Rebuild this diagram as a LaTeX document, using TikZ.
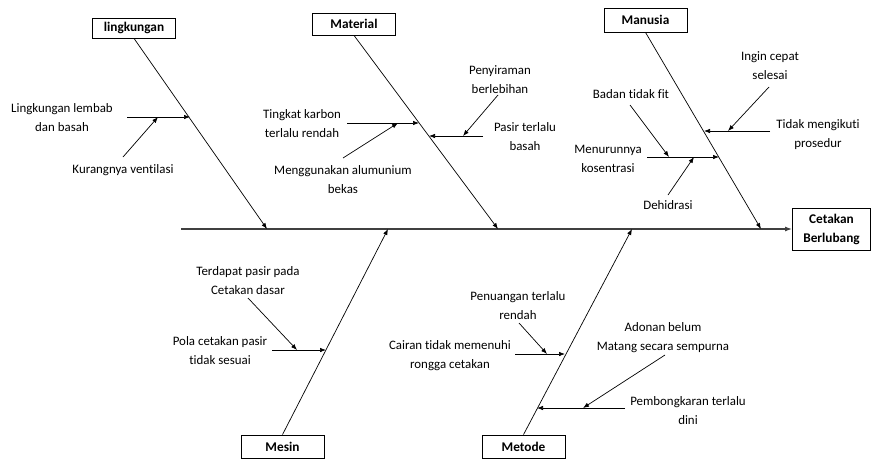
\documentclass[tikz,border=0pt]{standalone}
\usepackage{fontspec}
\setmainfont{Carlito}[Ligatures=NoCommon]
\usetikzlibrary{arrows.meta}

\tikzset{
  catbox/.style={draw, line width=0.8pt, minimum width=83pt, minimum height=23pt, inner sep=0pt, font=\fontsize{13.3}{19}\selectfont\bfseries},
  causetext/.style={align=center, inner sep=0pt},
  bone/.style={line width=0.7pt, -{Latex[length=6pt,width=4.5pt]}},
  spine/.style={line width=1.3pt, black!75, -{Latex[length=7pt,width=5pt]}}
}

\begin{document}
\begin{tikzpicture}[x=1pt, y=-1pt, font=\fontsize{12.9}{19}\selectfont]
  \useasboundingbox (0,0) rectangle (872,459);
  % category boxes and effect
  \node[catbox, minimum height=20pt] (lingk) at (134,28) {lingkungan};
  \node[catbox, minimum height=22pt] (mat) at (354,24) {Material};
  \node[catbox, minimum height=24pt] (man) at (645.5,20) {Manusia};
  \node[catbox] (mes) at (282.5,446.5) {Mesin};
  \node[catbox] (met) at (523.5,446.5) {Metode};
  \node[catbox, minimum width=78pt, minimum height=42pt, align=center] (efek) at (831.5,229) {Cetakan\\Berlubang};
  % spine and junction points
  \coordinate (tail) at (181,229);
  \coordinate (jl) at (267,229);
  \coordinate (jmat) at (498,229);
  \coordinate (jman) at (761,229);
  \coordinate (jmes) at (388,229);
  \coordinate (jmet) at (632,229);
  \draw[spine] (tail) -- (efek.west);
  \draw[bone] (lingk.south) -- (jl);
  \draw[bone] (mat.south) -- (jmat);
  \draw[bone] (man.south) -- (jman);
  \draw[bone] (mes.north) -- (jmes);
  \draw[bone] (met.north) -- (jmet);

  % lingkungan
  \node[causetext] (l1) at (62,117.5) {Lingkungan lembab\\dan basah};
  \node[causetext] (l2) at (123,170) {Kurangnya ventilasi};
  \coordinate (l1s) at (127,117);
  \coordinate (l1e) at (190,117);
  \coordinate (l1m) at (158,117);
  \coordinate (l2s) at (123,157);
  \draw[bone] (l1s) -- (l1e);
  \draw[bone] (l2s) -- (l1m);

  % material
  \node[causetext] (m1) at (302,124) {Tingkat karbon\\terlalu rendah};
  \node[causetext] (m2) at (343,179.5) {Menggunakan alumunium\\bekas};
  \node[causetext] (m3) at (525,137) {Pasir terlalu\\basah};
  \node[causetext] (m4) at (500,79.5) {Penyiraman\\berlebihan};
  \coordinate (m1s) at (347,123);
  \coordinate (m1e) at (419,123);
  \coordinate (m1m) at (398,123);
  \coordinate (m2s) at (343,158);
  \coordinate (m3s) at (483,136);
  \coordinate (m3e) at (429,136);
  \coordinate (m3m) at (463,136);
  \coordinate (m4s) at (498,95);
  \draw[bone] (m1s) -- (m1e);
  \draw[bone] (m2s) -- (m1m);
  \draw[bone] (m3s) -- (m3e);
  \draw[bone] (m4s) -- (m3m);

  % manusia
  \node[causetext] (h1) at (818,134.5) {Tidak mengikuti\\prosedur};
  \node[causetext] (h2) at (770,65.5) {Ingin cepat\\selesai};
  \node[causetext] (h3) at (608,159) {Menurunnya\\kosentrasi};
  \node[causetext] (h4) at (631,94) {Badan tidak fit};
  \node[causetext] (h5) at (668,205) {Dehidrasi};
  \coordinate (h1s) at (770,131);
  \coordinate (h1e) at (704,131);
  \coordinate (h1m) at (728,131);
  \coordinate (h2s) at (769,87);
  \coordinate (h3s) at (647,157);
  \coordinate (h3e) at (719,157);
  \coordinate (h3a) at (669,157);
  \coordinate (h3b) at (694,157);
  \coordinate (h4s) at (630,105);
  \coordinate (h5s) at (668,195);
  \draw[bone] (h1s) -- (h1e);
  \draw[bone] (h2s) -- (h1m);
  \draw[bone] (h3s) -- (h3e);
  \draw[bone] (h4s) -- (h3a);
  \draw[bone] (h5s) -- (h3b);

  % mesin
  \node[causetext] (s1) at (220,350.5) {Pola cetakan pasir\\tidak sesuai};
  \node[causetext] (s2) at (248,280.5) {Terdapat pasir pada\\Cetakan dasar};
  \coordinate (s1s) at (272,350);
  \coordinate (s1e) at (326,350);
  \coordinate (s1m) at (297,350);
  \coordinate (s2s) at (248,298);
  \draw[bone] (s1s) -- (s1e);
  \draw[bone] (s2s) -- (s1m);

  % metode
  \node[causetext] (d1) at (450,356) {Cairan tidak memenuhi\\rongga cetakan};
  \node[causetext] (d2) at (518,305.5) {Penuangan terlalu\\rendah};
  \node[causetext] (d3) at (688,411) {Pembongkaran terlalu\\dini};
  \node[causetext] (d4) at (663,337.5) {Adonan belum\\Matang secara sempurna};
  \coordinate (d1s) at (515,354);
  \coordinate (d1e) at (565,354);
  \coordinate (d1m) at (547,354);
  \coordinate (d2s) at (519,323);
  \coordinate (d3s) at (625,408);
  \coordinate (d3e) at (537,408);
  \coordinate (d3m) at (583,408);
  \coordinate (d4s) at (665,355);
  \draw[bone] (d1s) -- (d1e);
  \draw[bone] (d2s) -- (d1m);
  \draw[bone] (d3s) -- (d3e);
  \draw[bone] (d4s) -- (d3m);
\end{tikzpicture}
\end{document}
